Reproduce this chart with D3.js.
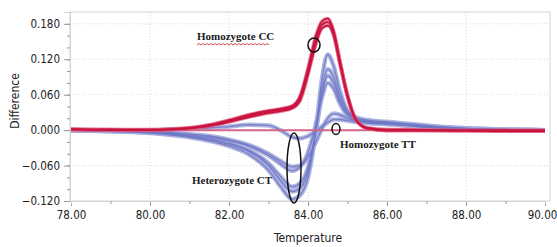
<!DOCTYPE html>
<html>
<head>
<meta charset="utf-8">
<script src="https://cdn.jsdelivr.net/npm/d3@7"></script>
<style>
body{margin:0;background:#fff;}
svg{display:block;}
</style>
</head>
<body>
<script>
var w=557,h=247;
// temperatures (shared x values)
var temps=[78,79,80,80.5,81,81.5,82,82.5,83,83.3,83.6,83.8,84,84.2,84.35,84.5,84.65,84.8,85,85.2,85.5,86,86.5,87,88,89,90];
// homozygote CC (red)
var cc1=[0.002,0.001,0.001,0.002,0.004,0.009,0.017,0.026,0.033,0.036,0.041,0.058,0.105,0.160,0.184,0.189,0.168,0.120,0.060,0.020,0.003,-0.001,-0.001,-0.001,-0.001,-0.002,-0.002];
var cc2=[0.001,0.001,0.000,0.001,0.003,0.008,0.015,0.024,0.031,0.034,0.039,0.054,0.100,0.152,0.178,0.183,0.165,0.118,0.058,0.019,0.003,0.000,0.000,0.000,-0.001,-0.001,-0.001];
var cc3=[0.001,0.000,0.000,0.001,0.003,0.007,0.014,0.022,0.029,0.032,0.037,0.050,0.094,0.146,0.172,0.177,0.160,0.114,0.056,0.018,0.004,0.001,0.001,0.000,0.000,0.000,0.000];
// heterozygote CT (blue)
var ct1=[0,-0.002,-0.005,-0.008,-0.012,-0.018,-0.027,-0.041,-0.068,-0.095,-0.117,-0.110,-0.080,0.000,0.085,0.128,0.108,0.068,0.033,0.022,0.017,0.014,0.011,0.008,0.003,0.001,0];
var ct2=[0,-0.002,-0.004,-0.007,-0.011,-0.016,-0.024,-0.036,-0.060,-0.085,-0.104,-0.098,-0.070,0.000,0.068,0.103,0.090,0.058,0.030,0.020,0.016,0.013,0.010,0.007,0.003,0.001,0];
var ct3=[0,-0.001,-0.004,-0.006,-0.010,-0.015,-0.022,-0.034,-0.056,-0.078,-0.096,-0.090,-0.063,0.000,0.060,0.092,0.080,0.052,0.028,0.019,0.015,0.012,0.009,0.006,0.002,0.001,0];
var ct4=[0,-0.001,-0.003,-0.005,-0.008,-0.012,-0.018,-0.027,-0.043,-0.057,-0.069,-0.062,-0.038,0.010,0.055,0.080,0.070,0.046,0.025,0.017,0.014,0.011,0.008,0.005,0.002,0,0];
var ct5=[0,0,-0.002,-0.004,-0.007,-0.010,-0.016,-0.025,-0.040,-0.052,-0.062,-0.060,-0.046,-0.020,0.002,0.020,0.028,0.026,0.020,0.016,0.013,0.011,0.008,0.005,0.002,0,0];
var ct6=[0,0,0,0.001,0.002,0.004,0.006,0.009,0.008,0.000,-0.012,-0.014,-0.010,-0.002,0.006,0.013,0.018,0.018,0.016,0.014,0.012,0.010,0.008,0.005,0.002,0,0];
// homozygote TT (reference)
var tt=[0,0,0,0,0,0,0,0,0,0,0,0,0,0,0,0,0,0,0,0,0,0,0,0,0,0,0];
var xTicks=[78,80,82,84,86,88,90];
var yTicks=[-0.12,-0.06,0,0.06,0.12,0.18];

var svg=d3.select('body').append('svg').attr('width',w).attr('height',h);
var x=d3.scaleLinear().domain([78,90]).range([71,545]);
var y=d3.scaleLinear().domain([-0.12,0.2]).range([201,12]);

// frame
svg.append('rect').attr('x',70).attr('y',12).attr('width',480).attr('height',189)
  .attr('fill','none').attr('stroke','#d4d4d4');

// grid
svg.selectAll('.gx').data(xTicks.slice(1,-1)).enter().append('line')
  .attr('x1',function(d){return x(d);}).attr('x2',function(d){return x(d);})
  .attr('y1',12).attr('y2',201).attr('stroke','#d8d8d8').attr('stroke-dasharray','1,2');
svg.selectAll('.gy').data(yTicks.slice(1)).enter().append('line')
  .attr('x1',70).attr('x2',550)
  .attr('y1',function(d){return y(d);}).attr('y2',function(d){return y(d);})
  .attr('stroke','#d8d8d8').attr('stroke-dasharray','1,2');

// axes
var font='"DejaVu Sans Condensed","DejaVu Sans",sans-serif';
svg.append('g').attr('transform','translate(70,0)')
  .call(d3.axisLeft(y).tickValues(yTicks).tickFormat(d3.format('.3f')).tickSize(6).tickPadding(4));
svg.append('g').attr('transform','translate(70,0)')
  .call(d3.axisLeft(y).tickValues(d3.range(-0.12,0.2,0.02)).tickFormat('').tickSize(3));
var xa=svg.append('g').attr('transform','translate(0,201)')
  .call(d3.axisBottom(x).tickValues(xTicks).tickFormat(d3.format('.2f')).tickSize(5).tickPadding(5));
svg.append('g').attr('transform','translate(0,201)')
  .call(d3.axisBottom(x).tickValues(d3.range(79,90,2)).tickFormat('').tickSize(3));
svg.selectAll('.domain').attr('stroke','#d4d4d4');
svg.selectAll('.tick line').attr('stroke','#999');
svg.selectAll('.tick text').style('font-family',font).style('font-size','11.5px').attr('fill','#222');
xa.selectAll('.tick text').filter(function(d){return d===90;}).attr('dx',-3);

svg.append('text').text('Temperature').attr('x',308).attr('y',242).attr('text-anchor','middle')
  .style('font-family',font).style('font-size','12px').attr('fill','#222');
svg.append('text').text('Difference').attr('transform','translate(19,101) rotate(-90)').attr('text-anchor','middle')
  .style('font-family',font).style('font-size','12px').attr('fill','#222');

// curves
var line=d3.line().x(function(d,i){return x(temps[i]);}).y(function(d){return y(d);}).curve(d3.curveMonotoneX);
var blues=[ct6,ct5,ct4,ct3,ct2,ct1];
svg.selectAll('.bh').data(blues).enter().append('path').attr('d',line)
  .attr('fill','none').attr('stroke','#a5abde').attr('stroke-width',4.5).attr('opacity',0.85);
svg.selectAll('.bc').data(blues).enter().append('path').attr('d',line)
  .attr('fill','none').attr('stroke','#6f78c4').attr('stroke-width',1.4).attr('opacity',0.85);
svg.append('path').datum(tt).attr('d',line).attr('fill','none')
  .attr('stroke','#d9648a').attr('stroke-width',2);
var reds=[cc3,cc2,cc1];
svg.selectAll('.rh').data(reds).enter().append('path').attr('d',line)
  .attr('fill','none').attr('stroke','#e0587c').attr('stroke-width',3.5).attr('opacity',0.8);
svg.selectAll('.rc').data(reds).enter().append('path').attr('d',line)
  .attr('fill','none').attr('stroke','#c8143f').attr('stroke-width',1.6);

// annotations
var serif='"Liberation Serif","Times New Roman",serif';
function label(t,px,py){
  svg.append('text').text(t).attr('x',px).attr('y',py)
    .style('font-family',serif).style('font-size','11px').style('font-weight','bold').attr('fill','#1a1a1a');
}
label('Homozygote CC',197,40);
label('Homozygote TT',340,148);
label('Heterozygote CT',192,184);
var wav=d3.path();
wav.moveTo(197,45);
for(var i=0;i<36;i++){ wav.lineTo(199+i*2,i%2?45:43.5); }
svg.append('path').attr('d',wav.toString()).attr('fill','none').attr('stroke','#d23a3a').attr('stroke-width',0.9);

var rings=[[314,45,6,7],[336,129,4,5.5],[294,168,7,35]];
svg.selectAll('.ring').data(rings).enter().append('ellipse')
  .attr('cx',function(d){return d[0];}).attr('cy',function(d){return d[1];})
  .attr('rx',function(d){return d[2];}).attr('ry',function(d){return d[3];})
  .attr('fill','none').attr('stroke','#111').attr('stroke-width',1.5);
</script>
</body>
</html>
